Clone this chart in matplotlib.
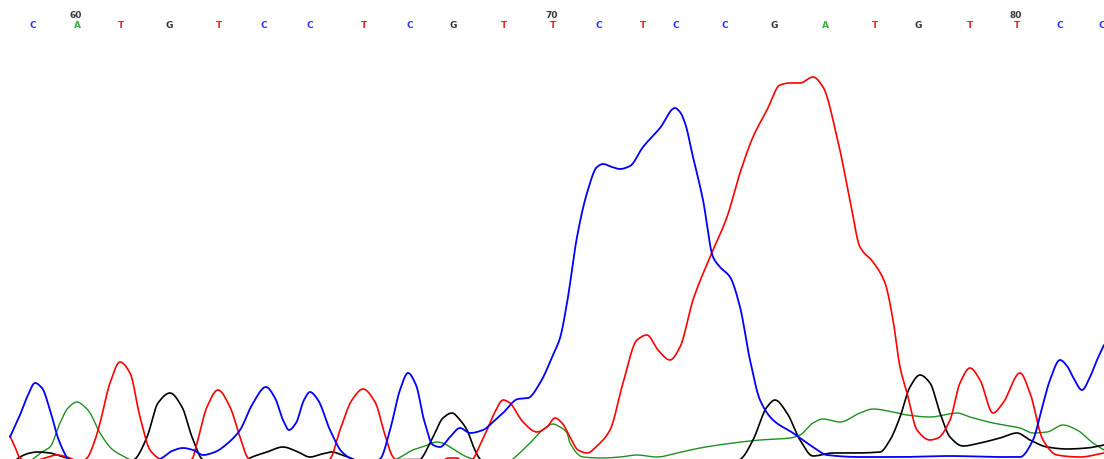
import numpy as np
import matplotlib
matplotlib.use("Agg")
import matplotlib.pyplot as plt
import matplotlib.transforms as mtransforms

# ---- base calls -------------------------------------------------------------
bases = list("CATGTCCTCGTTCTCCGATGTTCC")
base_scan = [33, 77, 121, 169, 219, 264, 310, 364, 410, 453, 504, 553,
             599, 643, 676, 725, 774, 825, 875, 918, 970, 1017, 1060, 1102]
first_base_number = 59
numbered_every = 10

# ---- trace samples (scan position, signal) per dye channel ------------------
blue_scan = [10, 20, 28, 35, 42, 50, 58, 63, 68, 80, 110, 150, 162, 172, 183, 193,
             203, 215, 228, 240, 252, 266, 275, 283, 289, 296, 304, 310, 318, 330,
             342, 354, 367, 380, 390, 400, 408, 416, 424, 433, 440, 450, 460, 470,
             483, 493, 503, 518, 528, 540, 553, 560, 567, 577, 587, 597, 603, 612,
             620, 630, 643, 660, 675, 680, 685, 693, 703, 713, 720, 730, 740, 750,
             760, 773, 793, 813, 827, 860, 900, 950, 1000, 1020, 1033, 1042, 1050,
             1060, 1067, 1073, 1082, 1090, 1097, 1104]
blue_sig = [22, 44, 64, 76, 71, 49, 21, 9, 0, -7, -9, -5, 1, 8, 11, 9,
            4, 7, 16, 29, 54, 72, 61, 39, 29, 36, 59, 67, 59, 29,
            7, -1, -4, 0, 29, 69, 86, 74, 39, 14, 12, 22, 31, 26,
            29, 37, 46, 60, 61, 76, 104, 121, 156, 222, 266, 292, 295, 292,
            290, 293, 312, 331, 351, 347, 336, 302, 259, 202, 192, 182, 152, 99,
            59, 39, 26, 12, 4, 2, 2, 3, 2, 2, 19, 51, 79,
            99, 93, 82, 69, 82, 99, 114]

red_scan = [10, 15, 20, 30, 45, 57, 70, 80, 87, 95, 100, 110, 120, 130, 140, 150,
            160, 175, 192, 197, 207, 218, 230, 240, 248, 260, 300, 320, 330, 340,
            352, 363, 375, 385, 393, 405, 435, 449, 457, 465, 473, 480, 487, 495,
            503, 510, 518, 523, 537, 547, 555, 562, 570, 578, 587, 598, 610, 623,
            637, 647, 658, 670, 680, 693, 710, 727, 740, 753, 767, 780, 790, 800,
            813, 823, 837, 850, 860, 873, 885, 893, 900, 907, 917, 930, 938, 950,
            960, 970, 980, 993, 1003, 1020, 1030, 1043, 1057, 1080, 1104]
red_sig = [23, 12, 1, -3, 1, 4, 1, -3, 1, 19, 36, 76, 97, 86, 42, 9,
           0, -5, 0, 16, 52, 69, 52, 22, 1, -6, -7, -5, 0, 29,
           59, 70, 57, 24, 2, -7, -6, 1, 1, -6, 0, 14, 29, 47,
           59, 56, 44, 37, 27, 32, 41, 36, 22, 9, 6, 14, 29, 76,
           119, 124, 109, 99, 112, 159, 202, 242, 286, 322, 349, 374, 376, 376,
           382, 372, 322, 259, 212, 197, 176, 139, 92, 66, 29, 19, 21, 39,
           76, 91, 79, 46, 56, 86, 66, 19, 4, 2, 6]

black_scan = [10, 20, 30, 37, 50, 60, 67, 80, 120, 135, 147, 158, 170, 182, 192,
              202, 215, 240, 250, 267, 283, 296, 310, 322, 332, 342, 353, 365, 410,
              420, 433, 443, 452, 460, 467, 474, 480, 490, 730, 742, 753, 767, 775,
              787, 800, 813, 833, 853, 880, 890, 900, 910, 920, 930, 940, 950, 963,
              980, 1000, 1017, 1030, 1047, 1067, 1087, 1104]
black_sig = [-7, 2, 6, 7, 6, 3, 1, -6, -7, 0, 22, 56, 66, 52, 22,
             0, -7, -6, 1, 7, 12, 8, 2, 5, 7, 4, 0, -7, -7,
             -1, 22, 41, 46, 39, 29, 11, 0, -7, -7, 1, 19, 52, 59,
             46, 19, 3, 6, 6, 7, 19, 42, 72, 84, 76, 46, 22, 13,
             16, 21, 26, 19, 12, 10, 11, 14]

green_scan = [10, 25, 33, 42, 50, 60, 68, 77, 85, 90, 100, 113, 127, 140, 380, 397,
              413, 425, 437, 445, 450, 467, 473, 490, 505, 513, 530, 545, 553, 560,
              567, 570, 583, 603, 620, 637, 657, 677, 700, 733, 760, 790, 800, 813,
              823, 840, 860, 873, 893, 907, 930, 957, 970, 993, 1020, 1033, 1047,
              1063, 1077, 1093, 1104]
green_sig = [-7, -5, 0, 7, 12, 36, 51, 57, 52, 46, 26, 9, 1, -6, -7, 0,
             9, 13, 17, 15, 12, 2, 0, -7, -6, 0, 16, 31, 35, 32,
             26, 16, 2, 1, 2, 4, 2, 6, 11, 16, 19, 21, 24, 36,
             40, 37, 46, 50, 47, 44, 42, 46, 42, 36, 31, 26, 27,
             34, 29, 16, 9]


def smooth_trace(x, y, step=0.5):
    """Monotone cubic (PCHIP) curve through the sampled trace values."""
    x = np.asarray(x, float)
    y = np.asarray(y, float)
    h = np.diff(x)
    d = np.diff(y) / h
    m = np.zeros_like(y)
    m[0], m[-1] = d[0], d[-1]
    for k in range(1, len(x) - 1):
        if d[k - 1] * d[k] > 0:
            w1 = 2 * h[k] + h[k - 1]
            w2 = h[k] + 2 * h[k - 1]
            m[k] = (w1 + w2) / (w1 / d[k - 1] + w2 / d[k])
    xs = np.arange(x[0], x[-1] + step / 2, step)
    idx = np.clip(np.searchsorted(x, xs) - 1, 0, len(x) - 2)
    t = (xs - x[idx]) / h[idx]
    h00 = 2 * t**3 - 3 * t**2 + 1
    h10 = t**3 - 2 * t**2 + t
    h01 = -2 * t**3 + 3 * t**2
    h11 = t**3 - t**2
    ys = (h00 * y[idx] + h10 * h[idx] * m[idx]
          + h01 * y[idx + 1] + h11 * h[idx] * m[idx + 1])
    return xs, ys


channel_colors = {"A": "#1f8f1f", "C": "#0000ff", "G": "#000000", "T": "#ff0000"}
letter_colors = {"A": "#40b040", "C": "#3030ff", "G": "#333333", "T": "#ff2020"}

fig = plt.figure(figsize=(11.04, 4.59), dpi=100)
ax = fig.add_axes([0, 0, 1, 1])
ax.set_xlim(0, 1104)
ax.set_ylim(0, 459)
ax.axis("off")

traces = [
    (green_scan, green_sig, "A", 1.0),
    (black_scan, black_sig, "G", 1.2),
    (red_scan, red_sig, "T", 1.2),
    (blue_scan, blue_sig, "C", 1.3),
]
for xs_, ys_, dye, lw in traces:
    sx, sy = smooth_trace(xs_, ys_)
    ax.plot(sx, sy, color=channel_colors[dye], lw=lw, solid_capstyle="round")

trans = mtransforms.blended_transform_factory(ax.transData, ax.transAxes)
for i, (b, x) in enumerate(zip(bases, base_scan)):
    ax.text(x, 1 - 26 / 459, b, transform=trans, ha="center", va="center",
            fontsize=6.5, fontweight="bold", color=letter_colors[b],
            family="DejaVu Sans")
    n = first_base_number + i
    if n % numbered_every == 0:
        ax.text(x - 1, 1 - 16 / 459, str(n), transform=trans, ha="center",
                va="center", fontsize=6.5, fontweight="bold", color="#3a3a3a",
                family="DejaVu Sans")

fig.savefig("out.png", dpi=100, facecolor="white")
